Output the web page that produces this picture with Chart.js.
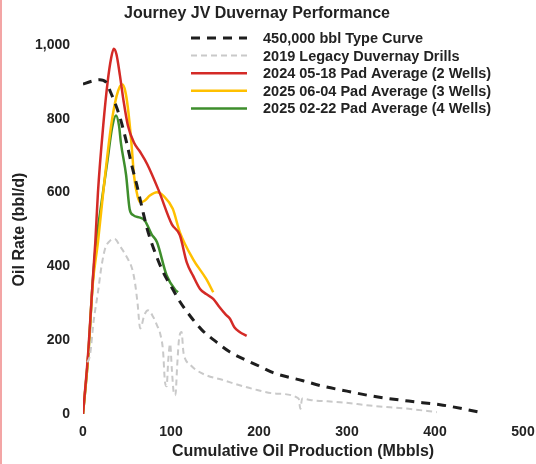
<!DOCTYPE html>
<html>
<head>
<meta charset="utf-8">
<script src="https://cdn.jsdelivr.net/npm/chart.js@4.4.1/dist/chart.umd.min.js"></script>
<style>
  body { margin: 0; background: #fff; }
  #wrap { position: relative; width: 536px; height: 464px; }
  #edge { position: absolute; left: 0; top: 0; width: 2px; height: 464px; background: #f3a5a5; }
</style>
</head>
<body>
<div id="wrap">
  <canvas id="chart" width="536" height="464"></canvas>
  <div id="edge"></div>
</div>
<script>
// cumulative oil (Mbbls) / oil rate (bbl/d)
const typeCurveX = [0, 10, 19, 26, 31, 36, 42, 50, 56, 61, 67, 73, 80, 91, 102, 110, 122, 135, 150, 167, 200, 216, 250, 273, 300, 330, 370, 409, 451];
const typeCurveY = [894, 902, 906, 900, 874, 845, 804, 731, 668, 622, 560, 501, 450, 385, 338, 305, 265, 228, 198, 168, 130, 112, 90, 75, 62, 48, 35, 24, 5];

const legacyX = [5, 8, 12, 17, 21, 25, 30, 36, 42, 51, 56, 59, 62, 65, 70, 74, 80, 84, 88, 91, 93, 95, 97, 99, 101, 103, 105, 107, 109, 112, 114, 116, 122, 127, 140, 159, 175, 198, 220, 245, 247, 249, 258, 292, 330, 370, 402];
const legacyY = [140, 160, 250, 330, 400, 447, 468, 474, 455, 420, 392, 357, 300, 232, 270, 281, 262, 241, 215, 170, 90, 75, 150, 190, 120, 60, 51, 130, 200, 222, 170, 150, 133, 122, 105, 92, 80, 65, 55, 42, 14, 42, 38, 32, 22, 14, 5];

const pad2024X = [0, 6, 11, 14, 17, 23, 28, 32, 35, 38, 42, 46, 51, 58, 65, 73, 86, 101, 110, 118, 125, 133, 140, 148, 155, 162, 167, 172, 178, 186];
const pad2024Y = [0, 170, 360, 466, 601, 782, 900, 965, 990, 975, 917, 850, 782, 735, 710, 677, 606, 514, 485, 410, 375, 339, 325, 312, 290, 270, 258, 235, 222, 212];

const pad2025aX = [0, 6, 11, 17, 23, 32, 38, 42, 45, 48, 51, 55, 58, 62, 65, 70, 76, 84, 92, 102, 110, 125, 140, 148];
const pad2025aY = [0, 160, 350, 466, 601, 782, 860, 888, 893, 875, 830, 735, 645, 590, 574, 578, 592, 601, 590, 556, 493, 420, 366, 330];

const pad2025bX = [0, 6, 11, 15, 20, 28, 33, 37.5, 41, 43, 49, 53, 57, 65, 70, 78, 84, 95, 105, 108];
const pad2025bY = [0, 160, 357, 466, 555, 690, 775, 809, 780, 736, 647, 555, 539, 532, 525, 487, 466, 376, 336, 330];

const seriesLabels = [
  '450,000 bbl Type Curve',
  '2019 Legacy Duvernay Drills',
  '2024 05-18 Pad Average (2 Wells)',
  '2025 06-04 Pad Average (3 Wells)',
  '2025 02-22 Pad Average (4 Wells)'
];
const xTicks = [0, 100, 200, 300, 400, 500];
const yTicks = [0, 200, 400, 600, 800, 1000];

const toPoints = (xs, ys) => xs.map((x, i) => ({ x: x, y: ys[i] }));

const font = 'Arial, "Liberation Sans", sans-serif';

// title + legend drawn in place, inside the plot like the original
const overlay = {
  id: 'overlay',
  afterDraw(chart) {
    const ctx = chart.ctx;
    ctx.save();
    ctx.fillStyle = '#222';
    ctx.font = 'bold 16px ' + font;
    ctx.textAlign = 'center';
    ctx.textBaseline = 'middle';
    ctx.fillText('Journey JV Duvernay Performance', 257, 14);

    ctx.font = 'bold 14.5px ' + font;
    ctx.textAlign = 'left';
    chart.data.datasets.forEach((ds, i) => {
      const y = 38 + i * 17.6;
      ctx.beginPath();
      ctx.strokeStyle = ds.borderColor;
      ctx.lineWidth = ds.borderWidth;
      ctx.setLineDash(ds.borderDash || []);
      ctx.moveTo(191, y);
      ctx.lineTo(247, y);
      ctx.stroke();
      ctx.setLineDash([]);
      ctx.fillStyle = '#222';
      ctx.fillText(ds.label, 263, y + 1);
    });
    ctx.restore();
  }
};

new Chart(document.getElementById('chart').getContext('2d'), {
  type: 'line',
  data: {
    datasets: [
      { label: seriesLabels[0], data: toPoints(typeCurveX, typeCurveY), borderColor: '#1e1e1e', borderWidth: 3, borderDash: [9, 7] },
      { label: seriesLabels[1], data: toPoints(legacyX, legacyY), borderColor: '#c9c9c9', borderWidth: 2, borderDash: [6, 4] },
      { label: seriesLabels[2], data: toPoints(pad2024X, pad2024Y), borderColor: '#d42a26', borderWidth: 2.5 },
      { label: seriesLabels[3], data: toPoints(pad2025aX, pad2025aY), borderColor: '#ffc000', borderWidth: 2.5 },
      { label: seriesLabels[4], data: toPoints(pad2025bX, pad2025bY), borderColor: '#3e8e2c', borderWidth: 2.5 }
    ]
  },
  options: {
    responsive: false,
    animation: false,
    parsing: false,
    elements: { point: { radius: 0 }, line: { cubicInterpolationMode: 'monotone' } },
    layout: { padding: { top: 45, right: 13, left: 0, bottom: 0 } },
    plugins: {
      legend: { display: false },
      title: { display: false },
      tooltip: { enabled: false }
    },
    scales: {
      x: {
        type: 'linear',
        min: 0,
        max: 500,
        afterBuildTicks: s => { s.ticks = xTicks.map(v => ({ value: v })); },
        afterFit: s => { s.height = 50; s.paddingRight = 0; s.paddingLeft = 0; },
        grid: { display: false },
        border: { display: false },
        ticks: { color: '#222', font: { family: font, size: 14, weight: 'bold' }, padding: 2 },
        title: { display: true, text: 'Cumulative Oil Production (Mbbls)', color: '#222', font: { family: font, size: 16, weight: 'bold' }, padding: { top: 2, bottom: 3 } }
      },
      y: {
        min: 0,
        max: 1000,
        afterBuildTicks: s => { s.ticks = yTicks.map(v => ({ value: v })); },
        afterFit: s => { s.width = 83; s.paddingTop = 0; s.paddingBottom = 0; },
        grid: { display: false },
        border: { display: false },
        ticks: { color: '#222', font: { family: font, size: 14, weight: 'bold' }, padding: 5, callback: v => v.toLocaleString('en-US') },
        title: { display: true, text: 'Oil Rate (bbl/d)', color: '#222', font: { family: font, size: 16, weight: 'bold' }, padding: { top: 10, bottom: 4 } }
      }
    }
  },
  plugins: [overlay]
});
</script>
</body>
</html>
